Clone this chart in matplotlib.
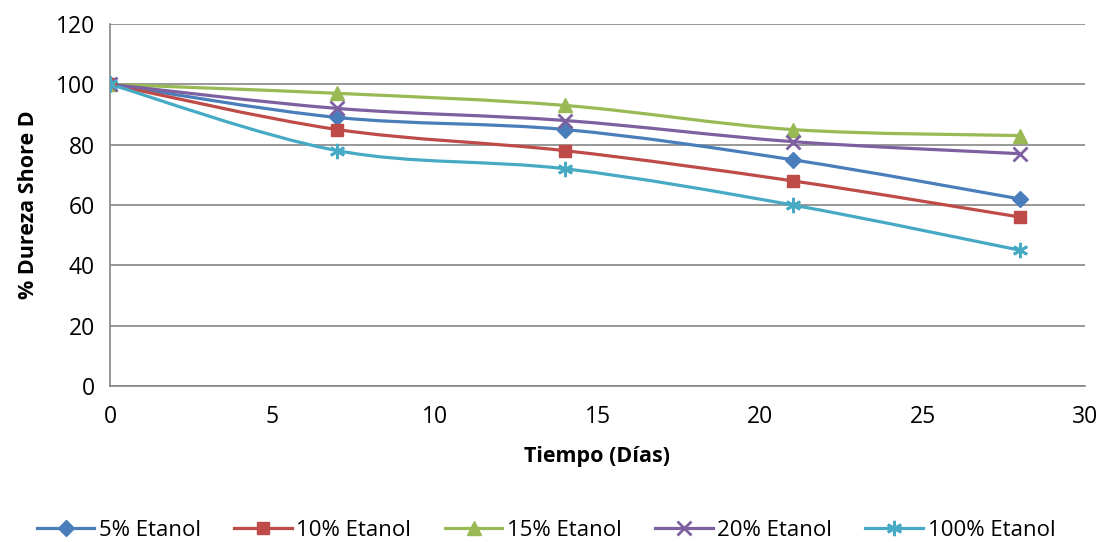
import matplotlib.pyplot as plt
from matplotlib.path import Path
from matplotlib.patches import PathPatch
from matplotlib.lines import Line2D

plt.rcParams['font.family'] = ['Open Sans', 'DejaVu Sans']

dias = [0, 7, 14, 21, 28]
etanol_5 = [100, 89, 85, 75, 62]
etanol_10 = [100, 85, 78, 68, 56]
etanol_15 = [100, 97, 93, 85, 83]
etanol_20 = [100, 92, 88, 81, 77]
etanol_100 = [100, 78, 72, 60, 45]

series = [
    ("5% Etanol", etanol_5, "#4A7EBB", "D", 8),
    ("10% Etanol", etanol_10, "#BE4B48", "s", 9),
    ("15% Etanol", etanol_15, "#98B954", "^", 10),
    ("20% Etanol", etanol_20, "#7D60A0", "x", 10),
    ("100% Etanol", etanol_100, "#46AAC5", (6, 2, 0), 11),
]


def smooth_path(xs, ys):
    # bezier through the points, like Excel's smoothed line
    pts = list(zip(xs, ys))
    n = len(pts)
    verts = [pts[0]]
    codes = [Path.MOVETO]
    for i in range(n - 1):
        p0 = pts[i - 1] if i > 0 else pts[i]
        p1 = pts[i]
        p2 = pts[i + 1]
        p3 = pts[i + 2] if i + 2 < n else pts[i + 1]
        c1 = (p1[0] + (p2[0] - p0[0]) / 6, p1[1] + (p2[1] - p0[1]) / 6)
        c2 = (p2[0] - (p3[0] - p1[0]) / 6, p2[1] - (p3[1] - p1[1]) / 6)
        verts += [c1, c2, p2]
        codes += [Path.CURVE4] * 3
    return Path(verts, codes)


fig = plt.figure(figsize=(11.03, 5.42), dpi=100)
ax = fig.add_axes([0.0997, 0.2878, 0.884, 0.668])

handles = []
for name, vals, col, mk, ms in series:
    ax.add_patch(PathPatch(smooth_path(dias, vals), fill=False, edgecolor=col,
                           lw=2.3, zorder=3))
    mew = 2 if mk in ("x", (6, 2, 0)) else 1
    ax.plot(dias, vals, ls="none", marker=mk, ms=ms, color=col, mew=mew, zorder=4)
    handles.append(Line2D([], [], color=col, lw=2.3, marker=mk, ms=ms, mew=mew))

ax.set_xlim(0, 30)
ax.set_ylim(0, 120)
ax.set_xticks(range(0, 31, 5))
ax.set_yticks(range(0, 121, 20))
ax.grid(axis="y", color="#868686", lw=1.2)
ax.set_axisbelow(True)
for s in ["top", "right"]:
    ax.spines[s].set_visible(False)
for s in ["left", "bottom"]:
    ax.spines[s].set_color("#868686")
    ax.spines[s].set_linewidth(1.2)
ax.tick_params(length=0, labelsize=16.5, pad=14)
ax.tick_params(axis="y", pad=11)
ax.set_xlabel("Tiempo (Días)", fontsize=15.5, fontweight="bold", labelpad=12)
ax.set_ylabel("% Dureza Shore D", fontsize=15.5, fontweight="bold", labelpad=12)

fig.legend(handles, [s[0] for s in series], loc="center", bbox_to_anchor=(0.495, 0.022),
           ncol=5, frameon=False, fontsize=16, handlelength=2.6, columnspacing=1.5,
           handletextpad=0.2)

fig.savefig("out.png", dpi=100)
